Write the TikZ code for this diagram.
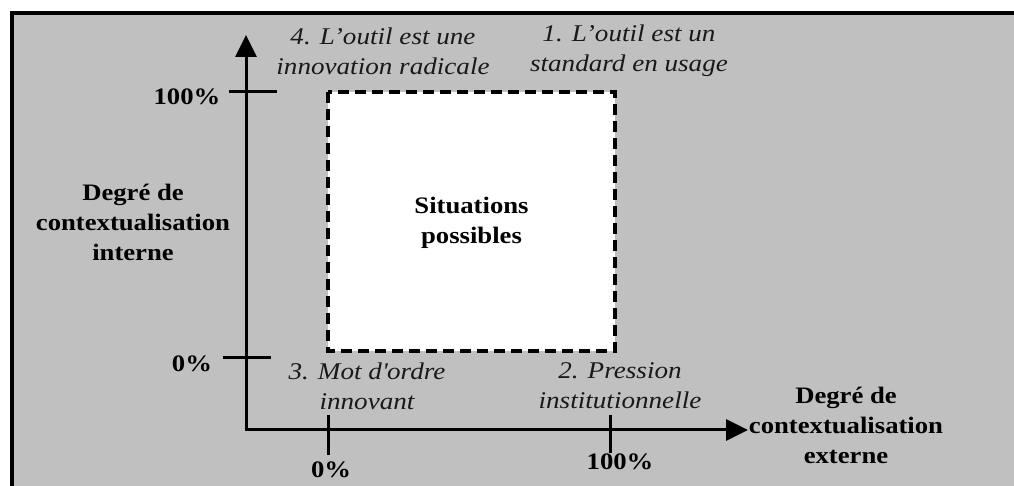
\documentclass[tikz,border=0pt]{standalone}
\usepackage{fontspec}
\setmainfont{Liberation Serif}[FakeStretch=1.13]
\usetikzlibrary{arrows.meta}
\definecolor{bggray}{RGB}{192,192,192}

\tikzset{
	axislabel/.style={font=\bfseries\fontsize{11.8}{15}\selectfont, align=center},
	caselabel/.style={font=\itshape\fontsize{12}{15}\selectfont, align=center, text=black!90},
	axistick/.style={line width=1.5pt},
	zonebox/.style={fill=white, line width=1.8pt, dash pattern=on 5.5pt off 3pt},
}

\begin{document}
\begin{tikzpicture}[x=0.5pt, y=-0.5pt]
	% Frame
	\useasboundingbox (0,0) rectangle (1014,486);
	\fill[white] (0,0) rectangle (1014,486);
	\fill[bggray] (11.5,13) rectangle (1014,486);
	\draw[line width=2pt] (11.5,486) -- (11.5,13) -- (1014,13);
	
	% Axes
	\coordinate (origin) at (246,430);
	\coordinate (ytip) at (246,35);
	\coordinate (xtip) at (748,430);
	\draw[line width=1.5pt, {Triangle[length=11pt,width=10.5pt]}-{Triangle[length=11pt,width=10.5pt]}] (ytip) |- (xtip);
	
	% Ticks
	\draw[axistick] (229,92) -- (277,92);
	\draw[axistick] (223,358) -- (271,358);
	\draw[axistick] (328,415) -- (328,455);
	\draw[axistick] (610,415) -- (610,453);
	
	% Possible situations
	\draw[zonebox] (328,92) rectangle (615,351);
	\node[axislabel] (zone) at (471.5,223) {Situations\\possibles};
	
	% Axis names and values
	\node[axislabel] (yname) at (133,222) {Degré de\\contextualisation\\interne};
	\node[axislabel] (xname) at (846,425) {Degré de\\contextualisation\\externe};
	\node[axislabel] (yhigh) at (187,97) {100\%};
	\node[axislabel] (ylow) at (192,364) {0\%};
	\node[axislabel] (xlow) at (331,470) {0\%};
	\node[axislabel] (xhigh) at (620,462) {100\%};
	
	% Corners
	\node[caselabel] (case4) at (383,51) {4. L’outil est une\\innovation radicale};
	\node[caselabel] (case1) at (629,51) {1. L’outil est un\\standard en usage};
	\node[caselabel] (case3) at (367,386) {3. Mot d\textquotesingle ordre\\innovant};
	\node[caselabel] (case2) at (620,386) {2. Pression\\institutionnelle};
	
\end{tikzpicture}
\end{document}
